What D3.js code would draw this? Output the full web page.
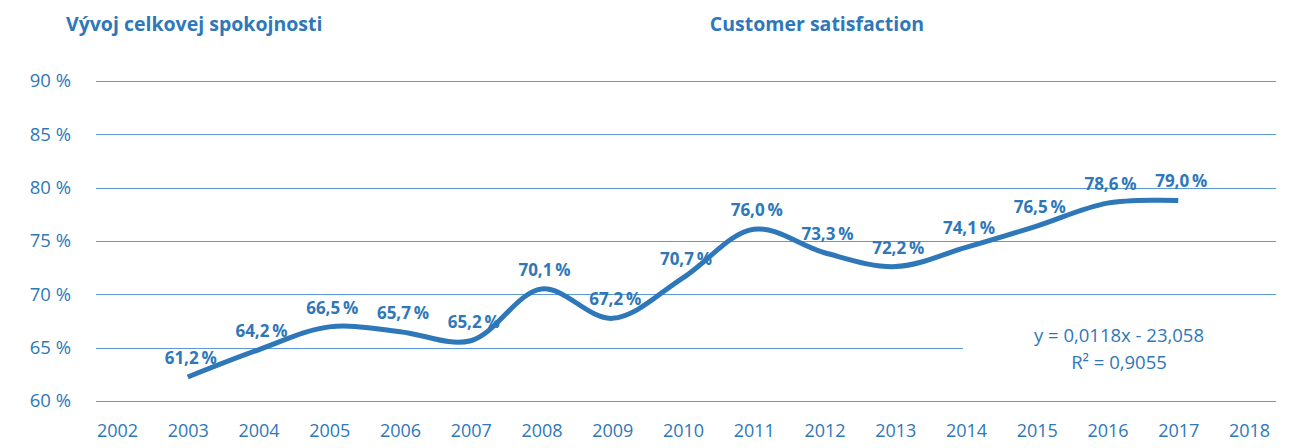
<!DOCTYPE html>
<html>
<head>
<meta charset="utf-8">
<script src="https://cdn.jsdelivr.net/npm/d3@7"></script>
<style>
  html, body { margin: 0; padding: 0; background: #fff; }
  svg { display: block; font-family: 'Open Sans', sans-serif; }
</style>
</head>
<body>
<div id="chart"></div>
<script>
// Data
const years = [2003, 2004, 2005, 2006, 2007, 2008, 2009, 2010, 2011, 2012, 2013, 2014, 2015, 2016, 2017];
// line as drawn in the picture (smoothed)
const lineValues = [62.25, 64.8, 66.95, 66.5, 65.65, 70.5, 67.75, 71.55, 76.1, 73.9, 72.6, 74.4, 76.4, 78.55, 78.8];
// value labels as printed
const labelValues = [61.2, 64.2, 66.5, 65.7, 65.2, 70.1, 67.2, 70.7, 76.0, 73.3, 72.2, 74.1, 76.5, 78.6, 79.0];
const xTicks = [2002, 2003, 2004, 2005, 2006, 2007, 2008, 2009, 2010, 2011, 2012, 2013, 2014, 2015, 2016, 2017, 2018];
const yTicks = [60, 65, 70, 75, 80, 85, 90];
const equation = ['y = 0,0118x - 23,058', 'R² = 0,9055'];

const width = 1295;
const height = 448;
const blue = '#2e77b9';
const gridColor = '#5b9bd5';

const svg = d3.select('#chart')
  .append('svg')
  .attr('width', width)
  .attr('height', height);

const x = d3.scaleLinear()
  .domain([2002, 2018])
  .range([117, 1249]);

const y = d3.scaleLinear()
  .domain([60, 90])
  .range([401, 81]);

const fmt = v => d3.format('.1f')(v).replace('.', ',') + '\u2009%';

// Titles
svg.append('text')
  .attr('x', 66)
  .attr('y', 31)
  .attr('fill', blue)
  .style('font-size', '19.5px')
  .style('font-weight', 700)
  .text('Vývoj celkovej spokojnosti');

svg.append('text')
  .attr('x', 817)
  .attr('y', 31)
  .attr('text-anchor', 'middle')
  .attr('fill', blue)
  .style('font-size', '19.5px')
  .style('font-weight', 700)
  .text('Customer satisfaction');

// Gridlines (65 % line is cut short for the equation)
svg.append('g')
  .selectAll('line')
  .data(yTicks)
  .join('line')
  .attr('x1', 96)
  .attr('x2', d => d === 65 ? x(2014) - 3 : 1276)
  .attr('y1', d => Math.round(y(d)) + 0.5)
  .attr('y2', d => Math.round(y(d)) + 0.5)
  .attr('stroke', gridColor)
  .attr('stroke-width', 1);

// Y axis labels
const yAxis = svg.append('g')
  .attr('transform', 'translate(71,0)')
  .call(d3.axisLeft(y).tickValues(yTicks).tickSize(0).tickPadding(0).tickFormat(d => d + ' %'));
yAxis.select('.domain').remove();
yAxis.selectAll('text')
  .attr('fill', blue)
  .style('font-family', "'Open Sans', sans-serif")
  .style('font-size', '18.5px');

// X axis labels
const xAxis = svg.append('g')
  .attr('transform', 'translate(0,424)')
  .call(d3.axisBottom(x).tickValues(xTicks).tickSize(0).tickPadding(0).tickFormat(d3.format('d')));
xAxis.select('.domain').remove();
xAxis.selectAll('text')
  .attr('fill', blue)
  .style('font-family', "'Open Sans', sans-serif")
  .style('font-size', '18px');

// Line
const points = years.map((yr, i) => [yr, lineValues[i]]);
const line = d3.line()
  .x(d => x(d[0]))
  .y(d => y(d[1]))
  .curve(d3.curveCatmullRom.alpha(0.5));

svg.append('path')
  .datum(points)
  .attr('d', line)
  .attr('fill', 'none')
  .attr('stroke', blue)
  .attr('stroke-width', 5);

// Value labels
svg.append('g')
  .selectAll('text')
  .data(years)
  .join('text')
  .attr('x', (d, i) => x(d) + 3)
  .attr('y', (d, i) => y(lineValues[i]) - 13)
  .attr('text-anchor', 'middle')
  .attr('fill', blue)
  .style('font-size', '17px')
  .style('font-weight', 700)
  .text((d, i) => fmt(labelValues[i]));

// Trend equation
svg.append('g')
  .selectAll('text')
  .data(equation)
  .join('text')
  .attr('x', 1119)
  .attr('y', (d, i) => 342 + i * 27)
  .attr('text-anchor', 'middle')
  .attr('fill', blue)
  .style('font-size', '18.5px')
  .text(d => d);
</script>
</body>
</html>
